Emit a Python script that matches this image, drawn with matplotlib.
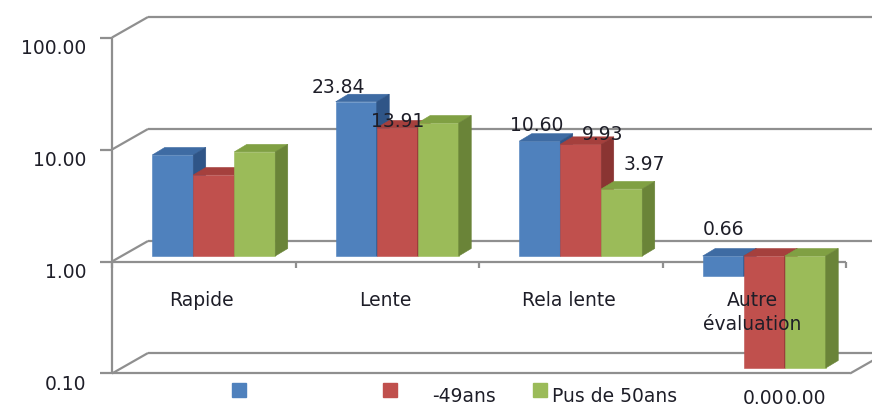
import numpy as np
import matplotlib.pyplot as plt
from matplotlib.patches import Polygon, Rectangle

# data (log scale, axis crosses at 1)
categories = ['Rapide', 'Lente', 'Rela lente', 'Autre\névaluation']
series_names = ['', '-49ans', 'Pus de 50ans']
vals_blue = [7.98, 23.84, 10.60, 0.66]
vals_red = [5.29, 13.91, 9.93, 0.00]
vals_green = [8.50, 15.40, 3.97, 0.00]
ytick_vals = [0.1, 1, 10, 100]

# which data labels are visible, with their pixel offsets (layout only)
label_offsets = {
    (0, 1): (-18, 14), (1, 1): (0, 6),
    (0, 2): (-3, 16), (1, 2): (22, 10), (2, 2): (23, 24),
    (0, 3): (0, 27), (1, 3): (-1, -30), (2, 3): (0, -30),
}

fronts = ['#4F81BD', '#C0504D', '#9BBB59']
tops = ['#3E6BA3', '#A5403D', '#80A043']
sides = ['#2F5587', '#8A3432', '#6A8438']
all_vals = [vals_blue, vals_red, vals_green]

W, H = 872, 407
CAT = 183.5   # pixels per category
DEC = 112.0   # pixels per decade
fig = plt.figure(figsize=(W / 100, H / 100), dpi=100)
ax = fig.add_axes([122 / W, 39 / H, 4 * CAT / W, 3 * DEC / H])
ax.set_xlim(-0.5, 3.5)
ax.set_yscale('log')
ax.set_ylim(0.1, 100)
ax.axis('off')

txt = '#1E1E28'
fs = 13.5


def sh(x, y, px, py):
    # shift a data point by some pixels (x linear, y log)
    return x + px / CAT, y * 10 ** (py / DEC)


FRONT = (-10, -5.5)
BACK = (26, 15)
DEPTH = (12.5, 7.5)
grid = dict(color='#8F8F8F', lw=1.6, clip_on=False, solid_capstyle='butt', zorder=1)

# walls, gridlines and axes
for v in ytick_vals:
    bx0, by = sh(-0.5, v, *BACK)
    bx1, _ = sh(3.5, v, 30, 15)
    ax.plot([bx0, bx1], [by, by], **grid)
    fx, fy = sh(-0.5, v, *FRONT)
    ax.plot([fx, bx0], [fy, by], **grid)
    tx, _ = sh(-0.5, v, -22, 0)
    ax.plot([tx, fx], [fy, fy], **grid)
    ax.annotate('%.2f' % v, xy=(-0.5, v), xytext=(-36, -16), textcoords='offset pixels',
                ha='right', va='center', fontsize=fs, color=txt, annotation_clip=False)

fx, y_lo = sh(-0.5, 0.1, *FRONT)
_, y_hi = sh(-0.5, 100, *FRONT)
ax.plot([fx, fx], [y_lo, y_hi], **grid)
for v in [1, 0.1]:
    x0, yy = sh(-0.5, v, *FRONT)
    x1, _ = sh(3.5, v, *FRONT)
    ax.plot([x0, x1 + 4 / CAT * (v < 1)], [yy, yy], **grid)
# floor right edge
x0, y0 = sh(3.5, 0.1, -6, -5.5)
x1, y1 = sh(3.5, 0.1, 30, 15)
ax.plot([x0, x1], [y0, y1], **grid)
# category ticks
for k in range(5):
    x, y = sh(k - 0.5, 1, *FRONT)
    _, y2 = sh(k - 0.5, 1, 0, -12)
    ax.plot([x, x], [y, y2], **grid)

# 3d-looking bars
bw = 41 / CAT
for i in range(len(categories)):
    for j in range(3):
        val = all_vals[j][i]
        v = max(val, 0.1)
        xc = i + (j - 1) * bw
        x0, x1 = xc - bw / 2, xc + bw / 2
        top, bot = max(v, 1), min(v, 1)
        z = 3 + j * 0.1
        ax.bar(xc, v - 1, bottom=1, width=bw, color=fronts[j], edgecolor=fronts[j],
               lw=0.4, zorder=z, clip_on=False)
        ax.add_patch(Polygon([(x0, top), (x1, top), sh(x1, top, *DEPTH), sh(x0, top, *DEPTH)],
                             closed=True, fc=tops[j], ec=tops[j], lw=0.4, zorder=z, clip_on=False))
        ax.add_patch(Polygon([(x1, bot), (x1, top), sh(x1, top, *DEPTH), sh(x1, bot, *DEPTH)],
                             closed=True, fc=sides[j], ec=sides[j], lw=0.4, zorder=z, clip_on=False))
        if (j, i) in label_offsets:
            anchor = top if val >= 0.1 else v
            ax.annotate('%.2f' % val, xy=(xc, anchor), xytext=label_offsets[(j, i)],
                        textcoords='offset pixels', ha='center', va='center',
                        fontsize=fs, color=txt, zorder=10, annotation_clip=False)

# category labels
for i, c in enumerate(categories):
    ax.annotate(c, xy=(i, 1), xytext=(-12, -35), textcoords='offset pixels',
                ha='center', va='top', fontsize=fs, color=txt, linespacing=1.3,
                zorder=10, annotation_clip=False)

# legend
leg_marker_x = [232, 383, 533]
leg_text_x = [250, 432, 552]
for j in range(3):
    fig.add_artist(Rectangle((leg_marker_x[j] / W, 1 - 397 / H), 14 / W, 14 / H,
                             transform=fig.transFigure, color=fronts[j]))
    if series_names[j]:
        fig.text(leg_text_x[j] / W, 1 - 397 / H, series_names[j], ha='left', va='center',
                 fontsize=fs, color=txt)

plt.savefig('out.png', dpi=100)
